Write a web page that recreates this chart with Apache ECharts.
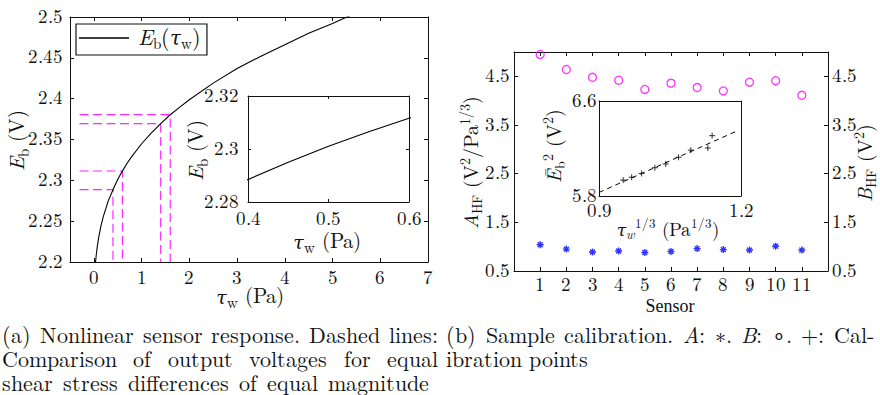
<!DOCTYPE html>
<html>
<head>
<meta charset="utf-8">
<script src="https://cdn.jsdelivr.net/npm/echarts@6/dist/echarts.min.js"></script>
<style>
  /* Latin Modern with compact line metrics so stacked lines keep tight spacing */
  @font-face {
    font-family: 'LMR'; font-style: normal; font-weight: 400;
    src: local('LMRoman10-Regular'), local('LM Roman 10 Regular'), local('Latin Modern Roman');
    ascent-override: 80%; descent-override: 22%; line-gap-override: 0%;
  }
  @font-face {
    font-family: 'LMR'; font-style: italic; font-weight: 400;
    src: local('LMRoman10-Italic'), local('LM Roman 10 Italic'), local('Latin Modern Roman Italic');
    ascent-override: 80%; descent-override: 22%; line-gap-override: 0%;
  }
  html, body { margin: 0; padding: 0; background: #fff; }
  #wrap { position: relative; width: 880px; height: 395px; overflow: hidden; }
  #chart { position: absolute; left: 0; top: 0; width: 880px; height: 395px; }
  .cap { position: absolute; font-family: 'LMR', 'Latin Modern Roman', 'Liberation Serif', serif; font-size: 22px;
         line-height: 24px; color: #111; }
  .cap .j { text-align: justify; text-align-last: justify; }
</style>
</head>
<body>
<div id="wrap">
  <div id="chart"></div>
  <div class="cap" style="left:2px; top:325px; width:436px;">
    <div class="j">(a) Nonlinear sensor response. Dashed lines:</div>
    <div class="j">Comparison of output voltages for equal</div>
    <div style="word-spacing:3px;">shear stress differences of equal magnitude</div>
  </div>
  <div class="cap" style="left:446px; top:325px; width:428px;">
    <div class="j">(b) Sample calibration. <i>A</i>: ∗. <i>B</i>: ∘. +: Cal-</div>
    <div>ibration points</div>
  </div>
</div>
<script>
// ---- (a) sensor response E_b(tau_w) ----
const curveTau = [0.035, 0.05, 0.07, 0.1, 0.15, 0.2, 0.3, 0.4, 0.45, 0.5, 0.55, 0.6, 0.7, 0.8, 1.0, 1.2, 1.4, 1.6, 1.8, 2.0, 2.5, 3.0, 3.5, 4.0, 4.5, 5.0, 5.3, 5.5];
const curveEb  = [2.200, 2.2086, 2.2183, 2.2298, 2.2445, 2.2562, 2.2745, 2.2885, 2.2950, 2.3010, 2.3065, 2.3116, 2.3212, 2.3297, 2.3448, 2.3579, 2.3695, 2.3803, 2.3897, 2.3986, 2.4190, 2.4370, 2.4520, 2.4660, 2.4800, 2.4920, 2.5000, 2.5050];

// dashed guides: equal shear stress steps at low and high tau
const guideFrom = -0.3;
const guideTau = [0.4, 0.6, 1.4, 1.6];
const guideEb  = [2.2887, 2.3114, 2.3695, 2.3805];

// axis ticks and labels, panel (a)
const tauTicks = [0, 1, 2, 3, 4, 5, 6, 7];
const tauLabels = ['0', '1', '2', '3', '4', '5', '6', '7'];
const ebTicks = [2.2, 2.25, 2.3, 2.35, 2.4, 2.45, 2.5];
const ebLabels = ['2.2', '2.25', '2.3', '2.35', '2.4', '2.45', '2.5'];
const zoomTauTicks = [0.4, 0.5, 0.6];
const zoomTauLabels = ['0.4', '0.5', '0.6'];
const zoomEbTicks = [2.28, 2.3, 2.32];
const zoomEbLabels = ['2.28', '2.3', '2.32'];

// ---- (b) calibration coefficients per sensor ----
const sensors = [1, 2, 3, 4, 5, 6, 7, 8, 9, 10, 11];
const coefA = [1.04, 0.95, 0.89, 0.91, 0.88, 0.90, 0.96, 0.94, 0.93, 1.01, 0.93];
const coefB = [4.95, 4.64, 4.48, 4.42, 4.23, 4.36, 4.27, 4.20, 4.38, 4.41, 4.11];

// sample calibration points and King's-law fit
const calTau13 = [0.951, 0.969, 0.990, 1.018, 1.041, 1.068, 1.094, 1.130, 1.139];
const calE2    = [5.934, 5.958, 5.990, 6.038, 6.070, 6.126, 6.186, 6.204, 6.308];
const fitTau13 = [0.9, 1.19];
const fitE2    = [5.83, 6.345];

// axis ticks and labels, panel (b)
const coefTicks = [0.5, 1.5, 2.5, 3.5, 4.5];
const coefLabels = ['0.5', '1.5', '2.5', '3.5', '4.5'];
const sensorLabels = ['1', '2', '3', '4', '5', '6', '7', '8', '9', '10', '11'];
const calXTicks = [0.9, 1.2];
const calXLabels = ['0.9', '1.2'];
const calYTicks = [5.8, 6.6];
const calYLabels = ['5.8', '6.6'];

const SERIF = "'LMR', 'Latin Modern Roman', 'Liberation Serif', serif";
const GREEK = "'DejaVu Serif', 'Liberation Serif', serif";
const TIMES = "'Liberation Serif', serif";
const INK = '#111';
const MAG = '#ff00ff';
const BLUE = '#0000ff';
const STAR = 'path://M0,-1L0,1M-1,0L1,0M-0.7,-0.7L0.7,0.7M-0.7,0.7L0.7,-0.7';
const PLUS = 'path://M0,-1L0,1M-1,0L1,0';

function pairs(xs, ys) { return xs.map((x, i) => [x, ys[i]]); }
function lookup(ticks, labels) {
  return v => { const i = ticks.findIndex(t => Math.abs(t - v) < 1e-9); return i < 0 ? '' : labels[i]; };
}

function rich(size) {
  const s = Math.round(size * 0.7);
  const off = Math.round(size * 0.6);
  const base = { fontFamily: SERIF, color: INK };
  return {
    it:   Object.assign({}, base, { fontStyle: 'italic', fontSize: size }),
    gr:   Object.assign({}, base, { fontFamily: GREEK, fontStyle: 'italic', fontSize: size * 0.9 }),
    rm:   Object.assign({}, base, { fontSize: size }),
    g:    Object.assign({}, base, { fontSize: size, width: 4 }),
    sub:  Object.assign({}, base, { fontSize: s, padding: [off, 0, 0, 0] }),
    subi: Object.assign({}, base, { fontSize: s, fontStyle: 'italic', padding: [off, 0, 0, 0] }),
    sup:  Object.assign({}, base, { fontSize: s, padding: [0, 0, off, 0] })
  };
}

function label(x, y, text, size, vertical) {
  return {
    type: 'text', x: x, y: y, rotation: vertical ? Math.PI / 2 : 0, silent: true,
    style: { text: text, rich: rich(size), align: 'center', verticalAlign: 'middle',
             fontFamily: SERIF, fontSize: size, fill: INK }
  };
}

const LINE = { show: true, onZero: false, lineStyle: { color: INK, width: 1 } };
const TICK_FONT = { fontFamily: SERIF, fontSize: 19, color: INK };

function axis(grid, min, max, pos, ticks, labels, margin, tickLen) {
  const a = {
    gridIndex: grid, type: 'value', min: min, max: max, position: pos,
    axisLine: LINE,
    axisTick: { show: true, inside: true, length: tickLen, customValues: ticks, lineStyle: { color: INK, width: 1 } },
    splitLine: { show: false },
    axisLabel: { show: false }
  };
  if (labels) {
    a.axisLabel = Object.assign({ show: true, customValues: ticks, formatter: lookup(ticks, labels), margin: margin }, TICK_FONT);
  }
  return a;
}

const option = {
  animation: false,
  backgroundColor: '#fff',
  grid: [
    { left: 70, top: 17, width: 358, height: 245 },
    { left: 248, top: 96, width: 161, height: 106, show: true, backgroundColor: '#fff', borderWidth: 0 },
    { left: 514, top: 52, width: 314, height: 219 },
    { left: 599, top: 101, width: 142, height: 95, show: true, backgroundColor: '#fff', borderWidth: 0 }
  ],
  xAxis: [
    axis(0, -0.5, 7, 'bottom', tauTicks, tauLabels, 7, 4),
    axis(0, -0.5, 7, 'top', tauTicks, null, 0, 4),
    axis(1, 0.4, 0.6, 'bottom', zoomTauTicks, zoomTauLabels, 8, 3),
    axis(1, 0.4, 0.6, 'top', zoomTauTicks, null, 0, 3),
    axis(2, 0, 12, 'bottom', sensors, sensorLabels, 5, 4),
    axis(2, 0, 12, 'top', sensors, null, 0, 4),
    axis(3, 0.9, 1.2, 'bottom', calXTicks, calXLabels, 6, 3),
    axis(3, 0.9, 1.2, 'top', calXTicks, null, 0, 3)
  ],
  yAxis: [
    axis(0, 2.2, 2.5, 'left', ebTicks, ebLabels, 7, 4),
    axis(0, 2.2, 2.5, 'right', ebTicks, null, 0, 4),
    axis(1, 2.28, 2.32, 'left', zoomEbTicks, zoomEbLabels, 9, 3),
    axis(1, 2.28, 2.32, 'right', zoomEbTicks, null, 0, 3),
    axis(2, 0.5, 5.0, 'left', coefTicks, coefLabels, 4, 4),
    axis(2, 0.5, 5.0, 'right', coefTicks, coefLabels, 4, 4),
    axis(3, 5.8, 6.6, 'left', calYTicks, calYLabels, 2, 3),
    axis(3, 5.8, 6.6, 'right', calYTicks, null, 0, 3)
  ],
  legend: {
    show: true, left: 76, top: 24, orient: 'horizontal', selectedMode: false,
    data: [{ name: 'Eb(τw)', icon: 'rect' }],
    itemWidth: 50, itemHeight: 1.4, itemGap: 0,
    padding: [3, 6, 3, 3],
    borderColor: INK, borderWidth: 1.2, borderRadius: 0, backgroundColor: '#fff',
    formatter: () => '{g| }{it|E}{sub|b}{rm|(}{gr|τ}{sub|w}{rm|)}',
    textStyle: { fontFamily: SERIF, fontSize: 22, color: INK, rich: rich(22) }
  },
  series: [
    {
      type: 'line', name: 'Eb(τw)', xAxisIndex: 0, yAxisIndex: 0,
      data: pairs(curveTau, curveEb), symbol: 'none', clip: true, z: 4,
      lineStyle: { color: '#000', width: 1.1 }, itemStyle: { color: '#000' }
    },
    ...guideTau.map((t, i) => ({
      type: 'line', xAxisIndex: 0, yAxisIndex: 0, symbol: 'none', clip: true, z: 3,
      data: [[guideFrom, guideEb[i]], [t, guideEb[i]], [t, ebTicks[0]]],
      lineStyle: { color: MAG, width: 1.2, type: [9, 4.5], opacity: 0.85 }
    })),
    {
      type: 'line', xAxisIndex: 2, yAxisIndex: 2,
      data: pairs(curveTau, curveEb), symbol: 'none', clip: true,
      lineStyle: { color: '#000', width: 1.1 }
    },
    {
      type: 'scatter', xAxisIndex: 4, yAxisIndex: 4,
      data: pairs(sensors, coefA), symbol: STAR, symbolSize: 7,
      itemStyle: { color: BLUE, borderColor: BLUE, borderWidth: 1.4 }
    },
    {
      type: 'scatter', xAxisIndex: 4, yAxisIndex: 5,
      data: pairs(sensors, coefB), symbol: 'circle', symbolSize: 8,
      itemStyle: { color: 'rgba(0,0,0,0)', borderColor: MAG, borderWidth: 1.3 }
    },
    {
      type: 'line', xAxisIndex: 6, yAxisIndex: 6,
      data: pairs(fitTau13, fitE2), symbol: 'none', clip: true,
      lineStyle: { color: '#000', width: 1, type: [5, 4] }
    },
    {
      type: 'scatter', xAxisIndex: 6, yAxisIndex: 6,
      data: pairs(calTau13, calE2), symbol: PLUS, symbolSize: 6,
      itemStyle: { color: '#000', borderColor: '#000', borderWidth: 1 }
    }
  ],
  graphic: [
    label(18, 140, '{it|E}{sub|b}{rm| (V)}', 21, true),
    label(250, 297, '{gr|τ}{sub|w}{rm| (Pa)}', 21, false),
    label(197, 150, '{it|E}{sub|b}{rm| (V)}', 21, true),
    label(327, 242, '{gr|τ}{sub|w}{rm| (Pa)}', 21, false),
    label(472, 162, '{it|A}{sub|HF}{rm| (V}{sup|2}{rm|/Pa}{sup|1/3}{rm|)}', 20, true),
    label(866, 163, '{it|B}{sub|HF}{rm| (V}{sup|2}{rm|)}', 20, true),
    {
      type: 'text', x: 670, y: 306, silent: true,
      style: { text: 'Sensor', fontFamily: TIMES, fontSize: 18, fill: INK, align: 'center', verticalAlign: 'middle' }
    },
    label(555, 146, '{it|Ē}{sub|b}{sup|2}{rm| (V}{sup|2}{rm|)}', 20, true),
    label(668, 230, '{gr|τ}{subi|w}{sup|1/3}{rm| (Pa}{sup|1/3}{rm|)}', 19, false)
  ]
};

// draw once the local faces are ready so text metrics are final
const chart = echarts.init(document.getElementById('chart'), null, { renderer: 'svg' });
const ready = document.fonts && document.fonts.load
  ? Promise.all([document.fonts.load("22px 'LMR'"), document.fonts.load("italic 22px 'LMR'")]).catch(() => null)
  : Promise.resolve();
chart.setOption(option);
ready.then(() => { chart.clear(); chart.setOption(option); });
</script>
</body>
</html>
